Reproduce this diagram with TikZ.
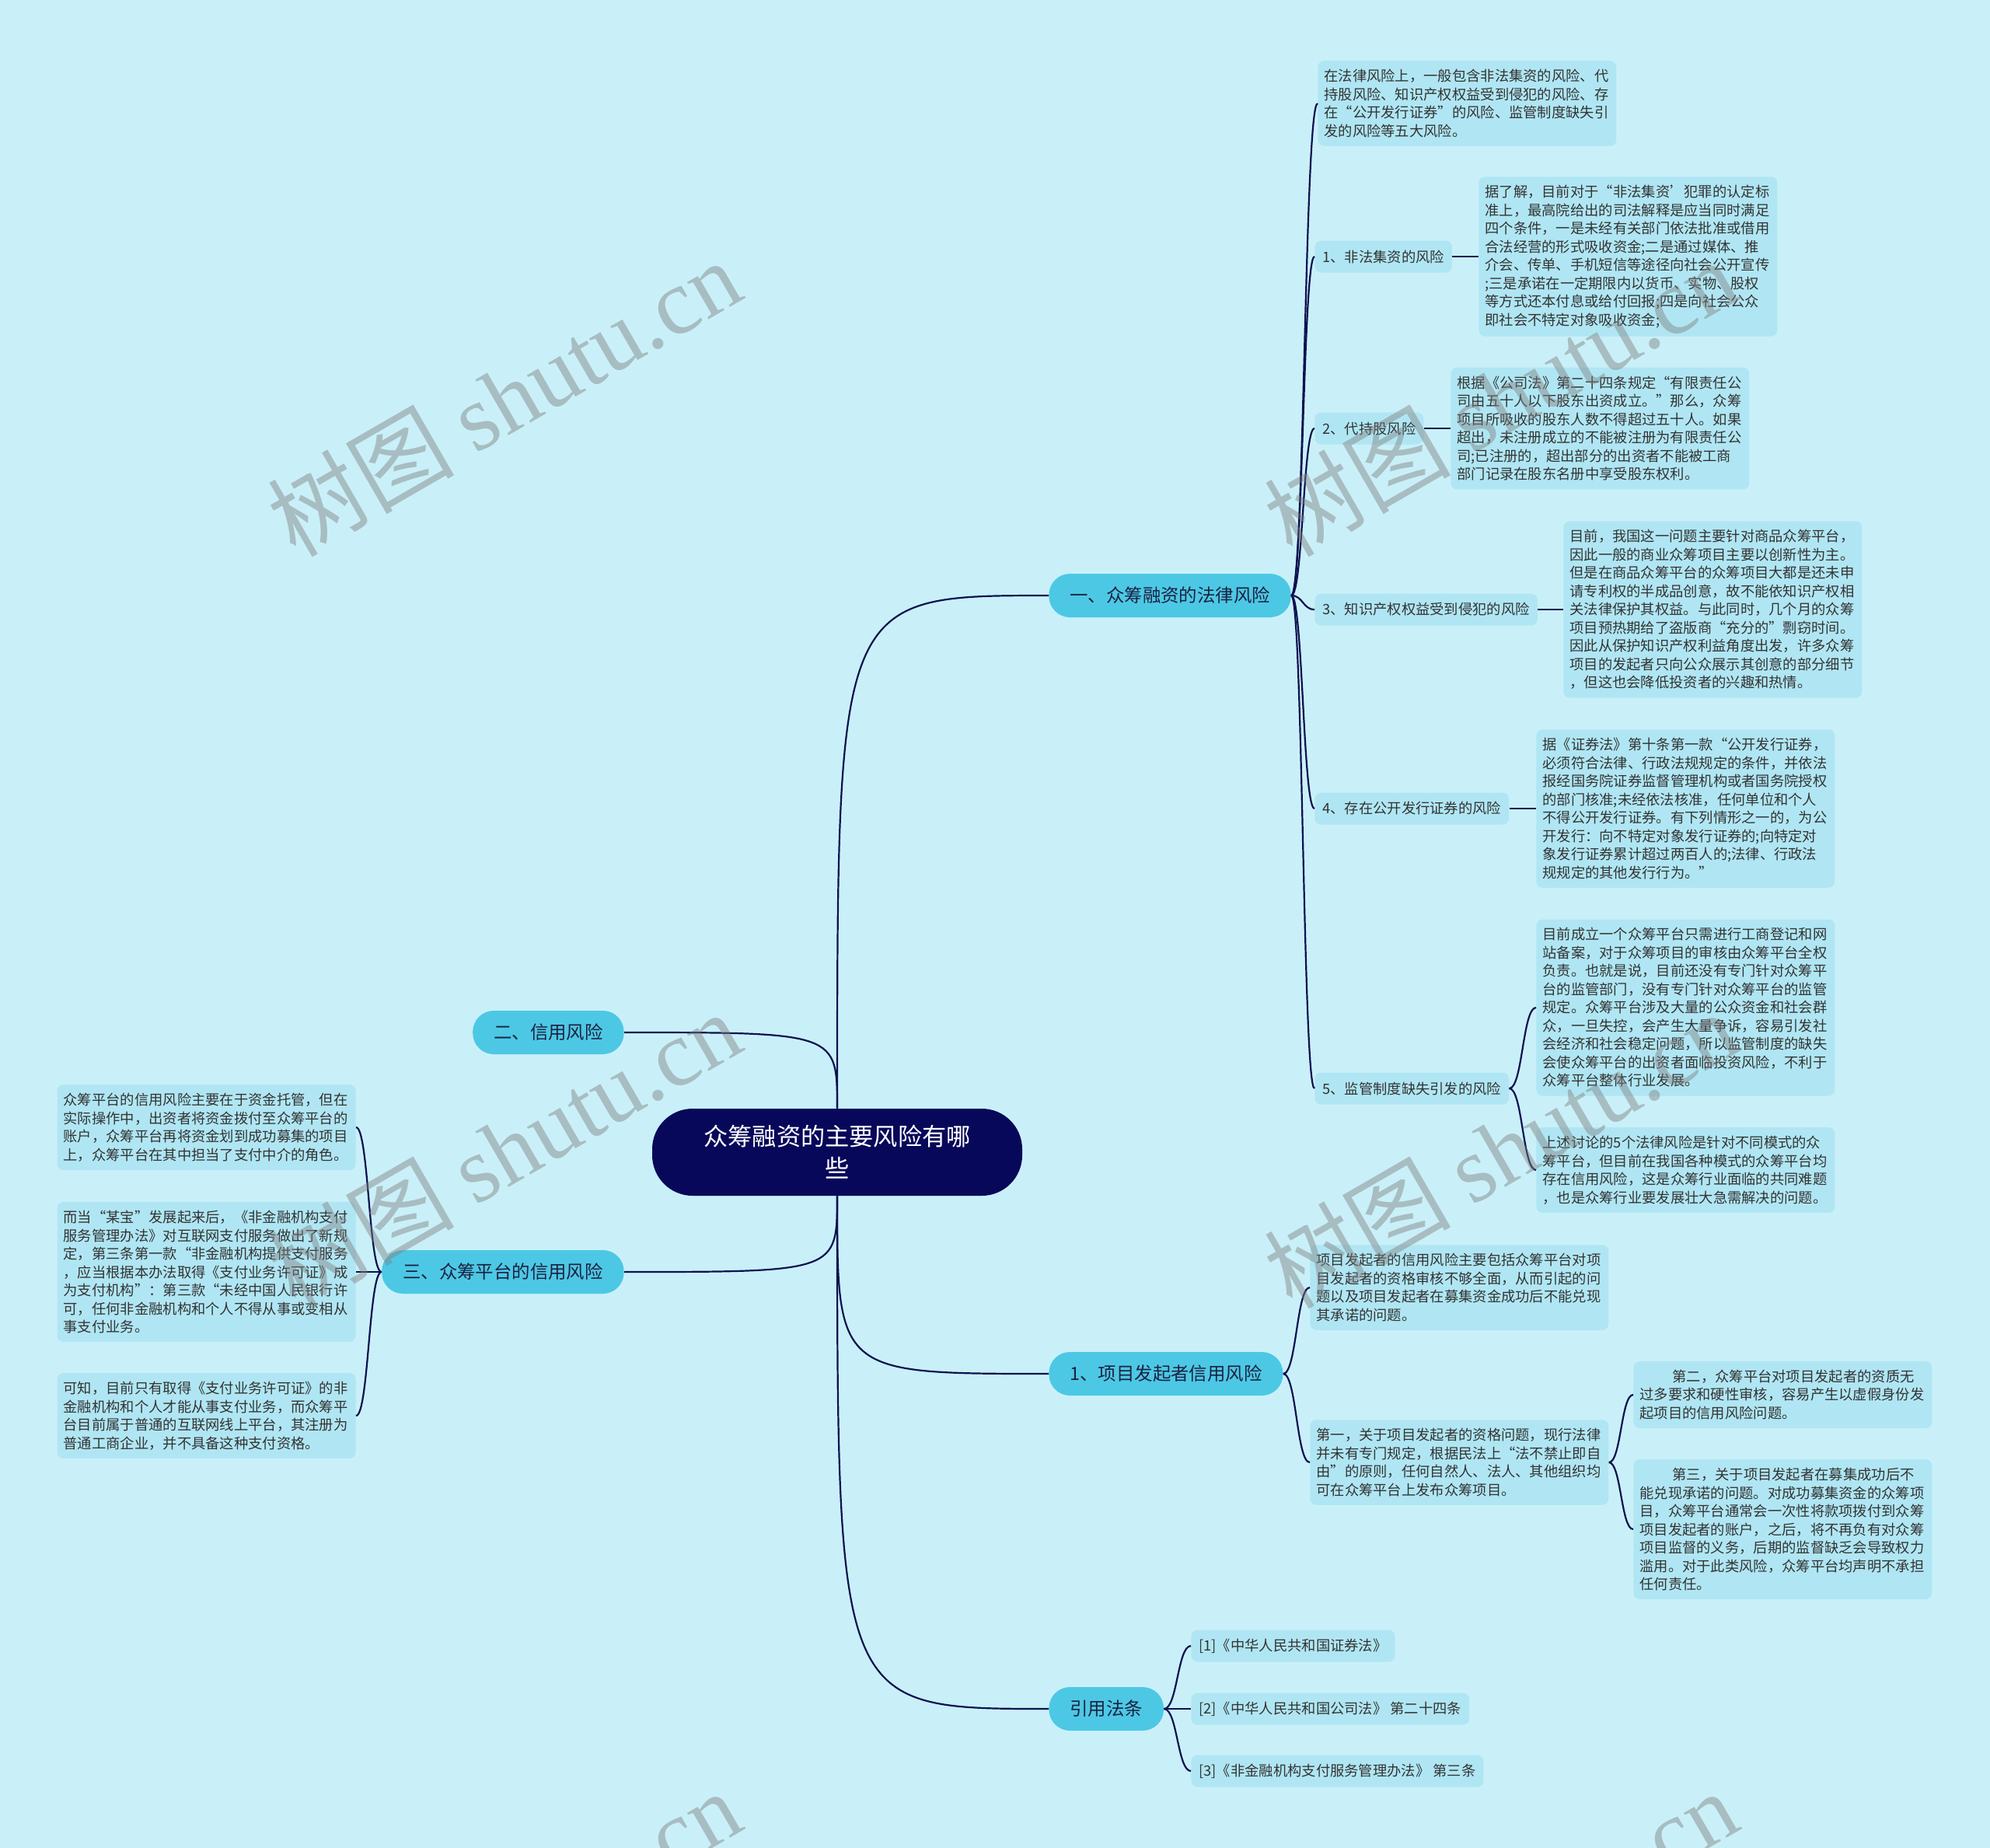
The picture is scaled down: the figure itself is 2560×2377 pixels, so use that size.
\documentclass[tikz,border=0pt]{standalone}
\usepackage{fontspec}
\usetikzlibrary{calc}
\newfontfamily\cjk{Noto Sans CJK SC}
\newfontfamily\wmlatin{Liberation Serif}
\definecolor{bg-cyan}{HTML}{C9F0F8}
\definecolor{leaf-cyan}{HTML}{B0E6F3}
\definecolor{main-cyan}{HTML}{4CC8E5}
\definecolor{root-navy}{HTML}{08085A}
\definecolor{wire-navy}{HTML}{0E1150}
\definecolor{ink}{HTML}{333333}
\definecolor{ink-dark}{HTML}{1C2140}

\begin{document}
\begin{tikzpicture}[x=0.5pt, y=-0.5pt,
      every node/.style={font=\cjk},
      wire/.style={draw=wire-navy, line width=1.1pt},
      rootbox/.style={fill=root-navy, text=white, rounded corners=26pt,
        minimum width=238pt, minimum height=56pt, text width=172pt, align=center,
        font=\cjk\fontsize{15.6}{20.5}\selectfont},
      topic/.style={fill=main-cyan, text=ink-dark, rounded corners=13.5pt,
        minimum height=28pt, inner xsep=13.5pt, font=\cjk\fontsize{11.7}{14}\selectfont},
      leaf/.style={fill=leaf-cyan, text=ink, rounded corners=4pt, inner xsep=4pt,
        inner ysep=5.5pt, text width=184pt, align=left,
        font=\cjk\fontsize{9.15}{11.75}\selectfont},
      tag/.style={fill=leaf-cyan, text=ink, rounded corners=4pt, inner xsep=5pt,
        minimum height=20.5pt, font=\cjk\fontsize{9.15}{11.75}\selectfont},
      wmark/.style={text=gray, opacity=0.45, rotate=30,
        font=\cjk\fontsize{60}{60}\selectfont},
      fork/.style={to path={.. controls ($(\tikztostart)!0.5!(\tikztostart-|\tikztotarget)$)
        and ($(\tikztotarget)!0.5!(\tikztotarget-|\tikztostart)$) .. (\tikztotarget)}},
      limb/.style={to path={.. controls (\tikztostart|-\tikztotarget) .. (\tikztotarget)}}]

    % canvas
    \fill[bg-cyan] (0,0) rectangle (2560,2377);
    \useasboundingbox (0,0) rectangle (2560,2377);

    % centre and main topics
    \node[rootbox] (root) at (1077,1482) {众筹融资的主要风险有哪\\些};
    \node[topic, anchor=west] (law) at (1349,766) {一、众筹融资的法律风险};
    \node[topic, anchor=east] (credit) at (803,1328) {二、信用风险};
    \node[topic, anchor=east] (platform) at (803,1636) {三、众筹平台的信用风险};
    \node[topic, anchor=west] (sponsor) at (1349,1767) {1、项目发起者信用风险};
    \node[topic, anchor=west] (cite) at (1349,2198) {引用法条};

    % legal risk branch
    \node[leaf, anchor=west] (lawsum) at (1695,133) {在法律风险上，一般包含非法集资的风险、代\\持股风险、知识产权权益受到侵犯的风险、存\\在“公开发行证券”的风险、监管制度缺失引\\发的风险等五大风险。};
    \node[tag, anchor=west] (risk1) at (1691,330) {1、非法集资的风险};
    \node[tag, anchor=west] (risk2) at (1691,551) {2、代持股风险};
    \node[tag, anchor=west] (risk3) at (1691,784) {3、知识产权权益受到侵犯的风险};
    \node[tag, anchor=west] (risk4) at (1691,1040) {4、存在公开发行证券的风险};
    \node[tag, anchor=west] (risk5) at (1691,1400) {5、监管制度缺失引发的风险};
    \node[leaf, anchor=west] (risk1txt) at (1902,330) {据了解，目前对于“非法集资’犯罪的认定标\\准上，最高院给出的司法解释是应当同时满足\\四个条件，一是未经有关部门依法批准或借用\\合法经营的形式吸收资金;二是通过媒体、推\\介会、传单、手机短信等途径向社会公开宣传\\;三是承诺在一定期限内以货币、实物、股权\\等方式还本付息或给付回报;四是向社会公众\\即社会不特定对象吸收资金;};
    \node[leaf, anchor=west] (risk2txt) at (1866,551) {根据《公司法》第二十四条规定“有限责任公\\司由五十人以下股东出资成立。”那么，众筹\\项目所吸收的股东人数不得超过五十人。如果\\超出，未注册成立的不能被注册为有限责任公\\司;已注册的，超出部分的出资者不能被工商\\部门记录在股东名册中享受股东权利。};
    \node[leaf, anchor=west] (risk3txt) at (2011,784) {目前，我国这一问题主要针对商品众筹平台，\\因此一般的商业众筹项目主要以创新性为主。\\但是在商品众筹平台的众筹项目大都是还未申\\请专利权的半成品创意，故不能依知识产权相\\关法律保护其权益。与此同时，几个月的众筹\\项目预热期给了盗版商“充分的”剽窃时间。\\因此从保护知识产权利益角度出发，许多众筹\\项目的发起者只向公众展示其创意的部分细节\\，但这也会降低投资者的兴趣和热情。};
    \node[leaf, anchor=west] (risk4txt) at (1976,1040) {据《证券法》第十条第一款“公开发行证券，\\必须符合法律、行政法规规定的条件，并依法\\报经国务院证券监督管理机构或者国务院授权\\的部门核准;未经依法核准，任何单位和个人\\不得公开发行证券。有下列情形之一的，为公\\开发行：向不特定对象发行证券的;向特定对\\象发行证券累计超过两百人的;法律、行政法\\规规定的其他发行行为。”};
    \node[leaf, anchor=west] (risk5a) at (1976,1296) {目前成立一个众筹平台只需进行工商登记和网\\站备案，对于众筹项目的审核由众筹平台全权\\负责。也就是说，目前还没有专门针对众筹平\\台的监管部门，没有专门针对众筹平台的监管\\规定。众筹平台涉及大量的公众资金和社会群\\众，一旦失控，会产生大量争诉，容易引发社\\会经济和社会稳定问题，所以监管制度的缺失\\会使众筹平台的出资者面临投资风险，不利于\\众筹平台整体行业发展。};
    \node[leaf, anchor=west] (risk5b) at (1976,1505) {上述讨论的5个法律风险是针对不同模式的众\\筹平台，但目前在我国各种模式的众筹平台均\\存在信用风险，这是众筹行业面临的共同难题\\，也是众筹行业要发展壮大急需解决的问题。};

    % sponsor credit branch
    \node[leaf, anchor=west] (spon1) at (1685,1656) {项目发起者的信用风险主要包括众筹平台对项\\目发起者的资格审核不够全面，从而引起的问\\题以及项目发起者在募集资金成功后不能兑现\\其承诺的问题。};
    \node[leaf, anchor=west] (spon2) at (1685,1881) {第一，关于项目发起者的资格问题，现行法律\\并未有专门规定，根据民法上“法不禁止即自\\由”的原则，任何自然人、法人、其他组织均\\可在众筹平台上发布众筹项目。};
    \node[leaf, anchor=west] (spon2a) at (2101,1794) {\hspace*{2.3em}第二，众筹平台对项目发起者的资质无\\过多要求和硬性审核，容易产生以虚假身份发\\起项目的信用风险问题。};
    \node[leaf, anchor=west] (spon2b) at (2101,1967) {\hspace*{2.3em}第三，关于项目发起者在募集成功后不\\能兑现承诺的问题。对成功募集资金的众筹项\\目，众筹平台通常会一次性将款项拨付到众筹\\项目发起者的账户，之后，将不再负有对众筹\\项目监督的义务，后期的监督缺乏会导致权力\\滥用。对于此类风险，众筹平台均声明不承担\\任何责任。};

    % platform credit branch (left)
    \node[leaf, anchor=east] (plat1) at (458,1450) {众筹平台的信用风险主要在于资金托管，但在\\实际操作中，出资者将资金拨付至众筹平台的\\账户，众筹平台再将资金划到成功募集的项目\\上，众筹平台在其中担当了支付中介的角色。};
    \node[leaf, anchor=east] (plat2) at (458,1636) {而当“某宝”发展起来后，《非金融机构支付\\服务管理办法》对互联网支付服务做出了新规\\定，第三条第一款“非金融机构提供支付服务\\，应当根据本办法取得《支付业务许可证》成\\为支付机构”：第三款“未经中国人民银行许\\可，任何非金融机构和个人不得从事或变相从\\事支付业务。};
    \node[leaf, anchor=east] (plat3) at (458,1821) {可知，目前只有取得《支付业务许可证》的非\\金融机构和个人才能从事支付业务，而众筹平\\台目前属于普通的互联网线上平台，其注册为\\普通工商企业，并不具备这种支付资格。};

    % cited laws
    \node[tag, anchor=west] (law1) at (1532,2117) {[1]《中华人民共和国证券法》};
    \node[tag, anchor=west] (law2) at (1532,2198) {[2]《中华人民共和国公司法》 第二十四条};
    \node[tag, anchor=west] (law3) at (1532,2278) {[3]《非金融机构支付服务管理办法》 第三条};

    % connectors from the centre
    \draw[wire] (root.north) to[limb] (law.west);
    \draw[wire] (root.north) to[limb] (credit.east);
    \draw[wire] (root.south) to[limb] (platform.east);
    \draw[wire] (root.south) to[limb] (sponsor.west);
    \draw[wire] (root.south) to[limb] (cite.west);

    % connectors inside the branches
    \foreach \n in {lawsum,risk1,risk2,risk3,risk4,risk5}
      \draw[wire] (law.east) to[fork] (\n.west);
    \foreach \a/\b in {risk1/risk1txt,risk2/risk2txt,risk3/risk3txt,risk4/risk4txt,risk5/risk5a,risk5/risk5b}
      \draw[wire] (\a.east) to[fork] (\b.west);
    \foreach \n in {spon1,spon2}
      \draw[wire] (sponsor.east) to[fork] (\n.west);
    \foreach \n in {spon2a,spon2b}
      \draw[wire] (spon2.east) to[fork] (\n.west);
    \foreach \n in {plat1,plat2,plat3}
      \draw[wire] (platform.west) to[fork] (\n.east);
    \foreach \n in {law1,law2,law3}
      \draw[wire] (cite.east) to[fork] (\n.west);

    % watermarks
    \foreach \wx in {648,1930}
      \foreach \wy in {511,1478,2480}
        \node[wmark] (wm-\wx-\wy) at (\wx,\wy) {树图 {\wmlatin shutu.cn}};
  \end{tikzpicture}
\end{document}
